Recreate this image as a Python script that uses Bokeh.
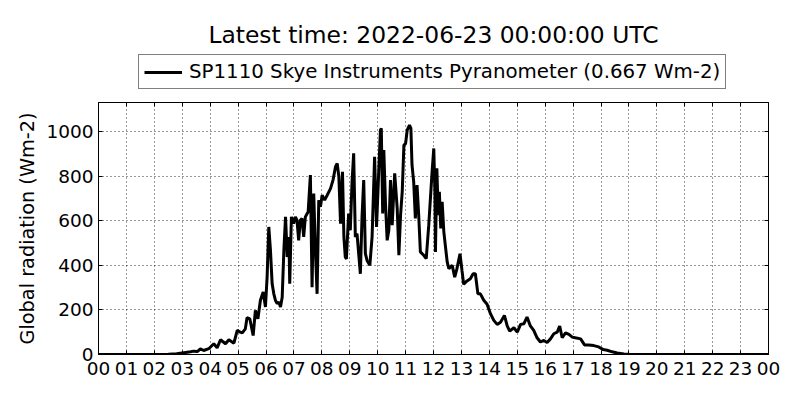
from bokeh.plotting import figure
from bokeh.layouts import column
from bokeh.models import (Range1d, FixedTicker, LinearAxis, Legend, LegendItem,
                          ColumnDataSource)
from bokeh.embed import file_html
from bokeh.resources import INLINE

# ---- data (hours since 2022-06-22 00:00 UTC, global radiation Wm-2) ----
hours = [0.0, 1.0, 2.0, 2.5, 2.8, 3.06, 3.3, 3.41, 3.55, 3.65, 3.77, 3.95,
         4.13, 4.25, 4.37, 4.55, 4.67, 4.85, 4.97, 5.08, 5.15, 5.26, 5.32,
         5.42, 5.54, 5.62, 5.71, 5.80, 5.90, 5.98, 6.04, 6.10, 6.16, 6.22,
         6.28, 6.34, 6.40, 6.46, 6.52, 6.58, 6.64, 6.70, 6.76, 6.82, 6.85,
         6.91, 6.99, 7.05, 7.11, 7.17, 7.23, 7.29, 7.35, 7.41, 7.51, 7.59,
         7.63, 7.65, 7.71, 7.77, 7.83, 7.89, 7.95, 8.01, 8.10, 8.19, 8.31,
         8.40, 8.49, 8.55, 8.61, 8.67, 8.74, 8.79, 8.84, 8.88, 8.96, 9.02,
         9.08, 9.14, 9.20, 9.26, 9.32, 9.38, 9.44, 9.50, 9.56, 9.62, 9.72,
         9.80, 9.89, 9.96, 10.04, 10.10, 10.13, 10.18, 10.22, 10.28, 10.34,
         10.40, 10.46, 10.52, 10.61, 10.70, 10.76, 10.82, 10.88, 10.94, 11.00,
         11.06, 11.14, 11.19, 11.23, 11.29, 11.35, 11.41, 11.47, 11.53, 11.65,
         11.74, 11.83, 11.89, 11.95, 12.01, 12.05, 12.07, 12.12, 12.17, 12.21,
         12.26, 12.31, 12.37, 12.49, 12.55, 12.67, 12.76, 12.84, 12.95, 13.02,
         13.08, 13.20, 13.32, 13.42, 13.50, 13.59, 13.68, 13.80, 13.92, 14.04,
         14.16, 14.28, 14.40, 14.54, 14.64, 14.73, 14.88, 15.00, 15.12, 15.24,
         15.35, 15.47, 15.59, 15.71, 15.83, 15.95, 16.07, 16.19, 16.31, 16.43,
         16.52, 16.61, 16.73, 16.85, 16.97, 17.08, 17.27, 17.41, 17.56, 17.74,
         17.92, 18.08, 18.22, 18.40, 18.58, 18.82, 19.06, 20.0, 24.0]
radiation = [0, 0, 0, 1, 3, 8, 12, 15, 14, 25, 18, 26,
             48, 30, 66, 48, 66, 51, 108, 100, 97, 115, 165,
             160, 85, 198, 160, 243, 280, 213, 347, 572, 467, 317,
             272, 242, 228, 235, 213, 257, 467, 617, 437, 527, 317,
             617, 587, 617, 602, 512, 602, 610, 527, 617, 640, 805,
             467, 302, 722, 467, 272, 692, 662, 714, 692, 714, 744,
             782, 842, 857, 797, 587, 819, 527, 437, 429, 632, 557,
             767, 902, 527, 542, 452, 362, 617, 782, 452, 422, 400,
             527, 887, 572, 827, 1006, 1014, 632, 917, 677, 512,
             557, 782, 580, 812, 655, 445, 625, 730, 939, 946,
             1007, 1029, 1014, 850, 775, 610, 760, 625, 460, 445,
             430, 580, 700, 820, 924, 730, 460, 835, 625, 730,
             565, 685, 550, 415, 385, 400, 347, 385, 452, 377,
             315, 330, 340, 362, 362, 272, 272, 243, 225, 183,
             153, 135, 145, 175, 128, 105, 120, 100, 135, 138,
             168, 128, 108, 75, 56, 63, 54, 70, 93, 100,
             128, 75, 97, 90, 78, 75, 70, 43, 43, 40,
             34, 22, 19, 12, 7, 2, 0, 0, 0]

x_ticks = list(range(0, 25))
x_tick_labels = ["%02d" % (h % 24) for h in x_ticks]
y_ticks = [0, 200, 400, 600, 800, 1000]

title_text = "Latest time: 2022-06-23 00:00:00 UTC"
legend_text = "SP1110 Skye Instruments Pyranometer (0.667 Wm-2)"
y_label = "Global radiation (Wm-2)"

FONT = "DejaVu Sans"

src = ColumnDataSource(data=dict(x=hours, y=radiation))

# ---------- header figure: title + legend ----------
# (its y range lies far above the data, so the series line drawn here is out of view
#  and only serves as the legend's key)
head = figure(width=784, height=92, x_range=Range1d(0, 24), y_range=Range1d(5000, 6000),
              output_backend="svg", toolbar_location=None,
              x_axis_type=None, y_axis_type=None,
              min_border_left=98, min_border_right=16, min_border_top=48,
              min_border_bottom=0)
head.grid.visible = False
head.outline_line_color = None
head.title.text = title_text
head.title.align = "center"
head.title.text_font = FONT
head.title.text_font_size = "23.4px"
head.title.text_font_style = "normal"
head.title.text_color = "black"
head.title.standoff = 0
head.title.offset = 0

key_line = head.line("x", "y", source=src, line_color="black", line_width=3)

legend = Legend(items=[LegendItem(label=legend_text, renderers=[key_line])],
                location=(40, 3), orientation="vertical",
                label_text_font=FONT, label_text_font_size="19.8px",
                label_text_color="black", border_line_color="black",
                border_line_width=1, background_fill_color="white",
                background_fill_alpha=1, padding=5, spacing=0, margin=0,
                glyph_width=38, glyph_height=20, label_height=20,
                label_standoff=7)
head.add_layout(legend, "center")

# ---------- main chart ----------
p = figure(width=784, height=292, x_range=Range1d(0, 24), y_range=Range1d(0, 1130),
           output_backend="svg", toolbar_location=None,
           min_border_left=98, min_border_right=16, min_border_top=10,
           min_border_bottom=30)

r = p.line("x", "y", source=src, line_color="black", line_width=3)

for ax in (p.xaxis[0], p.yaxis[0]):
    ax.major_tick_in = 4
    ax.major_tick_out = 0
    ax.minor_tick_in = 0
    ax.minor_tick_out = 0
    ax.axis_line_color = "black"
    ax.major_tick_line_color = "black"
    ax.major_label_text_font = FONT
    ax.major_label_text_font_size = "18.5px"
    ax.major_label_text_color = "black"
    ax.major_label_standoff = 5

p.xaxis[0].major_label_standoff = 7
p.xaxis[0].ticker = FixedTicker(ticks=x_ticks)
p.xaxis[0].major_label_overrides = {t: l for t, l in zip(x_ticks, x_tick_labels)}
p.yaxis[0].ticker = FixedTicker(ticks=y_ticks)
p.yaxis[0].axis_label = y_label
p.yaxis[0].axis_label_text_font = FONT
p.yaxis[0].axis_label_text_font_size = "19.3px"
p.yaxis[0].axis_label_text_font_style = "normal"
p.yaxis[0].axis_label_text_color = "black"
p.yaxis[0].axis_label_standoff = 4

right_ax = LinearAxis(ticker=FixedTicker(ticks=y_ticks), major_label_text_font_size="0px",
                      major_tick_in=4, major_tick_out=0, minor_tick_in=0, minor_tick_out=0,
                      axis_line_color="black", major_label_standoff=0)
right_ax.major_label_text_alpha = 0
p.add_layout(right_ax, "right")

top_ax = LinearAxis(ticker=FixedTicker(ticks=x_ticks), major_label_text_font_size="0px",
                    major_tick_in=4, major_tick_out=0, minor_tick_in=0, minor_tick_out=0,
                    axis_line_color="black", major_label_standoff=0)
top_ax.major_label_text_alpha = 0
p.add_layout(top_ax, "above")

p.xgrid.ticker = FixedTicker(ticks=x_ticks)
p.ygrid.ticker = FixedTicker(ticks=y_ticks)
for g in (p.xgrid[0], p.ygrid[0]):
    g.grid_line_color = "black"
    g.grid_line_alpha = 0.8
    g.grid_line_dash = "1 3"
    g.grid_line_width = 1

p.outline_line_color = "black"
p.outline_line_width = 1

layout = column(head, p, spacing=0)
open("out.html", "w").write(file_html(layout, INLINE))
